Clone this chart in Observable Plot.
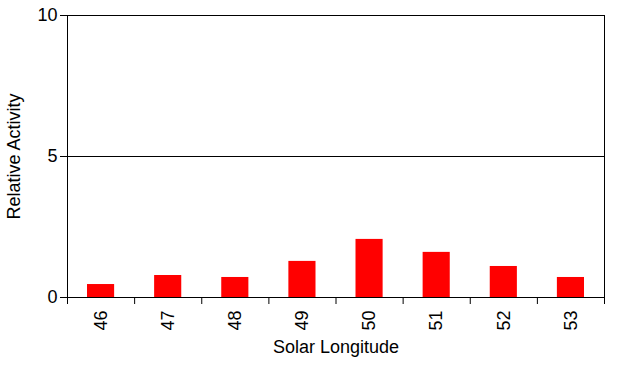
<!DOCTYPE html>
<html>
<head>
<meta charset="utf-8">
<script src="https://cdn.jsdelivr.net/npm/d3@7"></script>
<script src="https://cdn.jsdelivr.net/npm/@observablehq/plot@0.6"></script>
<style>
  body { margin: 0; background: white; }
</style>
</head>
<body>
<div id="chart"></div>
<script>
const longitudes = [46, 47, 48, 49, 50, 51, 52, 53];
const activity = [0.46, 0.78, 0.71, 1.28, 2.06, 1.6, 1.1, 0.71];
const yTicks = [0, 5, 10];
const gridValues = [5];
const xTitle = "Solar Longitude";
const yTitle = "Relative Activity";

const data = longitudes.map((lon, i) => ({lon, v: activity[i]}));
const boundaries = longitudes.map(l => l - 0.5).concat([longitudes[longitudes.length - 1] + 0.5]);

const chart = Plot.plot({
  width: 620,
  height: 370,
  marginLeft: 67,
  marginRight: 16,
  marginTop: 15,
  marginBottom: 73,
  style: {fontFamily: "'Liberation Sans', Arial, sans-serif", fontSize: "18px", color: "black", background: "white"},
  x: {type: "linear", domain: [boundaries[0], boundaries[boundaries.length - 1]]},
  y: {domain: [0, 10]},
  marks: [
    Plot.rectY(data, {x1: d => d.lon - 0.5, x2: d => d.lon + 0.5, y: "v", insetLeft: 20, insetRight: 20, fill: "#ff0000"}),
    Plot.ruleY(gridValues, {stroke: "black", strokeWidth: 1}),
    Plot.frame({stroke: "black", strokeWidth: 1}),
    Plot.axisY({ticks: yTicks, tickSize: 7, tickPadding: 3, label: null, fontSize: 18, stroke: "black"}),
    Plot.axisX({ticks: boundaries, tickSize: 7, tickFormat: () => "", label: null, stroke: "black"}),
    Plot.axisX({ticks: longitudes, tickSize: 0, tickPadding: 13, tickRotate: -90, tickFormat: d => String(d), label: null, fontSize: 18}),
    Plot.text([xTitle], {frameAnchor: "bottom", dy: 55, fontSize: 18, fill: "black"}),
    Plot.text([yTitle], {frameAnchor: "left", textAnchor: "middle", rotate: -90, dx: -53, fontSize: 18, fill: "black"})
  ]
});
document.getElementById("chart").appendChild(chart);
</script>
</body>
</html>
